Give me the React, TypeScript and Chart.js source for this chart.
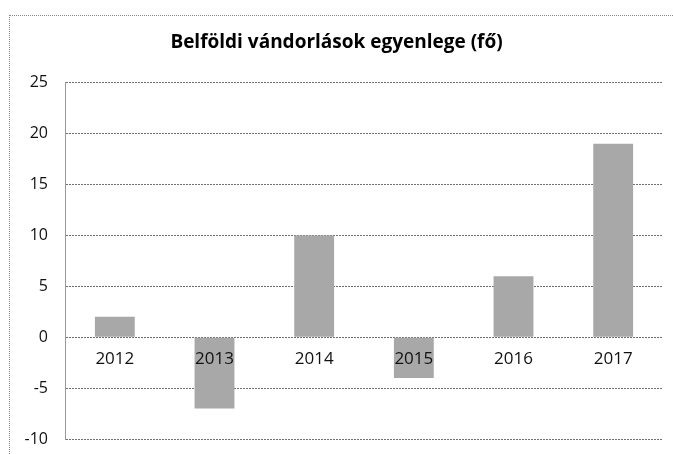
import React, { useEffect, useRef } from "react";
import { Chart, registerables } from "chart.js";

Chart.register(...registerables);

const TITLE = "Belföldi vándorlások egyenlege (fő)";
const years = ["2012", "2013", "2014", "2015", "2016", "2017"];
const balance = [2, -7, 10, -4, 6, 19];
const yMin = -10;
const yMax = 25;
const yStep = 5;

const FONT = "'Open Sans', sans-serif";

const labelsOnTop = {
  id: "labelsOnTop",
  afterDatasetsDraw(chart: any) {
    const { ctx, scales } = chart;
    const x = scales.x;
    const y = scales.y;
    const y0 = y.getPixelForValue(0);
    ctx.save();
    ctx.fillStyle = "#111";
    ctx.font = `17px ${FONT}`;
    ctx.textAlign = "center";
    ctx.textBaseline = "middle";
    years.forEach((lbl, i) => {
      ctx.fillText(lbl, x.getPixelForValue(i), y0 + 22);
    });
    ctx.restore();
  },
};

export default function App() {
  const ref = useRef<HTMLCanvasElement | null>(null);

  useEffect(() => {
    if (!ref.current) return;
    const chart = new Chart(ref.current, {
      type: "bar",
      data: {
        labels: years,
        datasets: [
          {
            data: balance,
            backgroundColor: "#a8a8a8",
            borderWidth: 0,
            barPercentage: 0.4,
            categoryPercentage: 1,
          },
        ],
      },
      plugins: [labelsOnTop],
      options: {
        animation: false,
        responsive: false,
        maintainAspectRatio: false,
        layout: { padding: { left: 0, right: 10, top: 0, bottom: 15 } },
        plugins: {
          legend: { display: false },
          tooltip: { enabled: false },
          title: {
            display: true,
            text: TITLE,
            color: "#000",
            font: { family: FONT, size: 19, weight: "bold" },
            padding: { top: 15, bottom: 29 },
          },
        },
        scales: {
          x: {
            display: false,
          },
          y: {
            min: yMin,
            max: yMax,
            afterFit: (s: any) => {
              s.width = 55;
              s.paddingTop = 0;
              s.paddingBottom = 0;
            },
            ticks: {
              stepSize: yStep,
              color: "#111",
              padding: 17,
              font: { family: FONT, size: 16 },
            },
            grid: { color: "#6f6f6f", lineWidth: 1, drawTicks: false },
            border: { display: true, color: "#999", dash: [2, 1] },
          },
        },
      },
    });
    return () => chart.destroy();
  }, []);

  return (
    <div
      style={{
        position: "fixed",
        left: 9,
        top: 15,
        width: 664,
        height: 439,
        boxSizing: "border-box",
        borderLeft: "1px dotted #888",
        borderTop: "1px dotted #888",
        background: "#fff",
      }}
    >
      <canvas ref={ref} width={663} height={438} style={{ display: "block" }} />
    </div>
  );
}
